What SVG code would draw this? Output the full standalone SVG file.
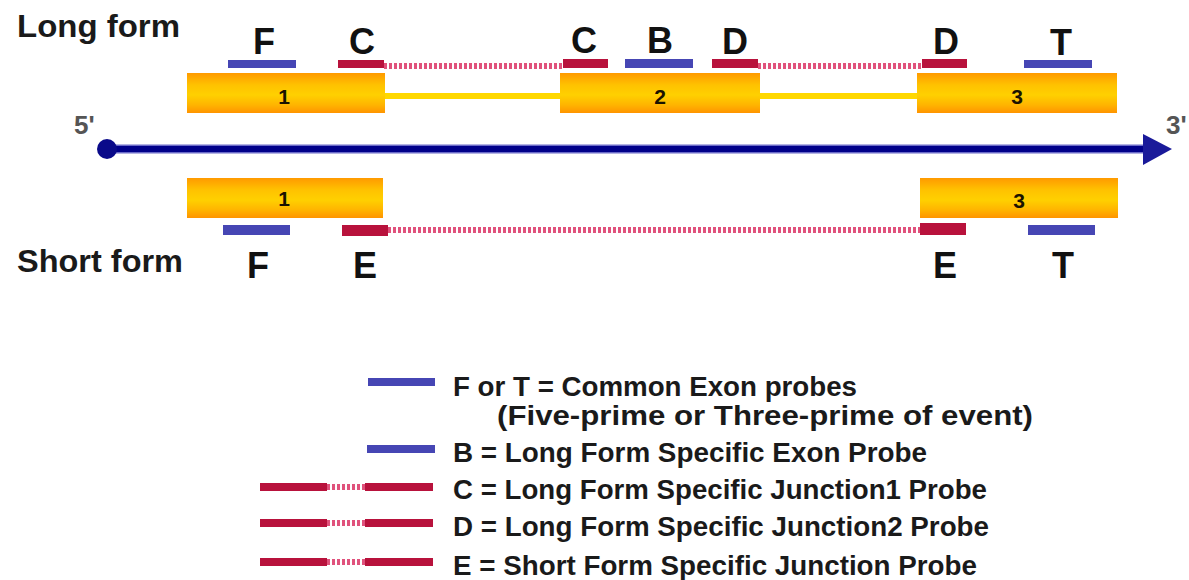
<svg xmlns="http://www.w3.org/2000/svg" width="1189" height="580" viewBox="0 0 1189 580">
<defs>
<linearGradient id="exg" x1="0" y1="0" x2="0" y2="1">
<stop offset="0" stop-color="#FF9A00"/>
<stop offset="0.3" stop-color="#FFC200"/>
<stop offset="0.55" stop-color="#FFD000"/>
<stop offset="0.8" stop-color="#FFB400"/>
<stop offset="1" stop-color="#FF9400"/>
</linearGradient>
<style>
.exon{fill:url(#exg);}
.num{font-family:"Liberation Sans",Arial,sans-serif;font-weight:bold;font-size:21px;fill:#1a1200;text-anchor:middle;}
.blue{fill:#4646B4;}
.red{fill:#B8123C;}
.dot{stroke:#E0527C;stroke-width:6;stroke-dasharray:3 2;fill:none;}
.intron{stroke:#FFD800;stroke-width:6;}
.lab{font-family:"Liberation Sans",Arial,sans-serif;font-weight:bold;font-size:36px;fill:#111;text-anchor:middle;}
.form{font-family:"Liberation Sans",Arial,sans-serif;font-weight:bold;font-size:32px;fill:#1a1a1a;}
.leg{font-family:"Liberation Sans",Arial,sans-serif;font-weight:bold;font-size:27px;fill:#1a1a1a;}
.prime{font-family:"Liberation Sans",Arial,sans-serif;font-weight:bold;font-size:26px;fill:#555;}
</style>
</defs>
<rect width="1189" height="580" fill="#fff"/>

<text class="form" x="17" y="37" textLength="163" lengthAdjust="spacingAndGlyphs">Long form</text>
<text class="form" x="17" y="272" textLength="166" lengthAdjust="spacingAndGlyphs">Short form</text>

<g id="connectors">
<line class="intron" x1="385" y1="96" x2="560" y2="96"/>
<line class="intron" x1="760" y1="96" x2="917" y2="96"/>
<line class="dot" x1="384" y1="66" x2="563" y2="66"/>
<line class="dot" x1="758" y1="66" x2="922" y2="66"/>
<line class="dot" x1="388" y1="230" x2="920" y2="230"/>
</g>

<g id="axis">
<line x1="107" y1="149" x2="1146" y2="149" stroke="#6A6AC8" stroke-width="9"/>
<line x1="107" y1="149" x2="1146" y2="149" stroke="#00008A" stroke-width="6"/>
<circle cx="107" cy="149" r="10" fill="#0A0A8A"/>
<polygon points="1143,134 1172,149 1143,165" fill="#1A1A9A"/>
<text class="prime" x="74" y="134">5'</text>
<text class="prime" x="1166" y="134">3'</text>
</g>

<g id="long-exon1"><rect class="exon" x="187" y="73" width="198" height="40"/><text class="num" x="284" y="104">1</text></g>
<g id="long-exon2"><rect class="exon" x="560" y="73" width="200" height="40"/><text class="num" x="660" y="104">2</text></g>
<g id="long-exon3"><rect class="exon" x="917" y="73" width="200" height="40"/><text class="num" x="1017" y="104">3</text></g>
<g id="short-exon1"><rect class="exon" x="187" y="178" width="196" height="40"/><text class="num" x="284" y="206">1</text></g>
<g id="short-exon3"><rect class="exon" x="920" y="178" width="198" height="40"/><text class="num" x="1019" y="208">3</text></g>

<g id="probe-long-F"><rect class="blue" x="228" y="60" width="68" height="8"/><text class="lab" x="264" y="54">F</text></g>
<g id="probe-long-C1"><rect class="red" x="338" y="60" width="46" height="8"/><text class="lab" x="362" y="54">C</text></g>
<g id="probe-long-C2"><rect class="red" x="563" y="59" width="45" height="9"/><text class="lab" x="584" y="53">C</text></g>
<g id="probe-long-B"><rect class="blue" x="625" y="59" width="68" height="9"/><text class="lab" x="660" y="53">B</text></g>
<g id="probe-long-D1"><rect class="red" x="712" y="59" width="46" height="9"/><text class="lab" x="735" y="54">D</text></g>
<g id="probe-long-D2"><rect class="red" x="922" y="59" width="45" height="9"/><text class="lab" x="946" y="54">D</text></g>
<g id="probe-long-T"><rect class="blue" x="1024" y="60" width="68" height="8"/><text class="lab" x="1061" y="55">T</text></g>

<g id="probe-short-F"><rect class="blue" x="223" y="225" width="67" height="10"/><text class="lab" x="258" y="278">F</text></g>
<g id="probe-short-E1"><rect class="red" x="342" y="225" width="46" height="11"/><text class="lab" x="365" y="278">E</text></g>
<g id="probe-short-E2"><rect class="red" x="920" y="223" width="46" height="12"/><text class="lab" x="945" y="278">E</text></g>
<g id="probe-short-T"><rect class="blue" x="1028" y="225" width="67" height="10"/><text class="lab" x="1063" y="278">T</text></g>

<g id="legend">
<rect class="blue" x="368" y="378" width="67" height="8"/>
<text class="leg" x="453" y="396" textLength="404" lengthAdjust="spacingAndGlyphs">F or T = Common Exon probes</text>
<text class="leg" x="497" y="425" textLength="536" lengthAdjust="spacingAndGlyphs">(Five-prime or Three-prime of event)</text>
<rect class="blue" x="367" y="445" width="68" height="8"/>
<text class="leg" x="453" y="462" textLength="474" lengthAdjust="spacingAndGlyphs">B = Long Form Specific Exon Probe</text>
<rect class="red" x="260" y="483" width="67" height="8"/>
<line class="dot" x1="327" y1="487" x2="365" y2="487"/>
<rect class="red" x="365" y="483" width="68" height="8"/>
<text class="leg" x="453" y="499" textLength="534" lengthAdjust="spacingAndGlyphs">C = Long Form Specific Junction1 Probe</text>
<rect class="red" x="260" y="519" width="67" height="8"/>
<line class="dot" x1="327" y1="523" x2="365" y2="523"/>
<rect class="red" x="365" y="519" width="68" height="8"/>
<text class="leg" x="453" y="536" textLength="536" lengthAdjust="spacingAndGlyphs">D = Long Form Specific Junction2 Probe</text>
<rect class="red" x="260" y="558" width="67" height="8"/>
<line class="dot" x1="327" y1="562" x2="365" y2="562"/>
<rect class="red" x="365" y="558" width="68" height="8"/>
<text class="leg" x="453" y="575" textLength="524" lengthAdjust="spacingAndGlyphs">E = Short Form Specific Junction Probe</text>
</g>
</svg>
